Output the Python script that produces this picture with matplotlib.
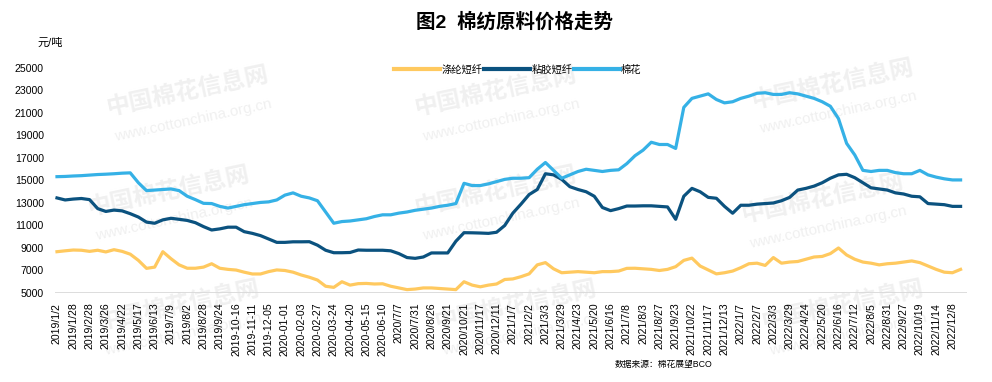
import matplotlib.pyplot as plt
import numpy as np

plt.rcParams["font.family"] = ["Liberation Sans", "Noto Sans CJK SC", "DejaVu Sans"]

# tick labels (one every two data points)
tick_labels = [
    "2019/1/2", "2019/1/28", "2019/2/28", "2019/3/26", "2019/4/22", "2019/5/17",
    "2019/6/13", "2019/7/9", "2019/8/2", "2019/8/28", "2019/9/24", "2019-10-16",
    "2019-11-11", "2019-12-05", "2020-01-01", "2020-02-03", "2020-02-27",
    "2020-03-24", "2020-04-20", "2020-05-15", "2020-06-10", "2020/7/7",
    "2020/7/31", "2020/8/26", "2020/9/21", "2020/10/21", "2020/11/17",
    "2020/12/11", "2021/1/7", "2021/2/2", "2021/3/3", "2021/3/29", "2021/4/23",
    "2021/5/20", "2021/6/16", "2021/7/8", "2021/8/3", "2021/8/27", "2021/9/23",
    "2021/10/22", "2021/11/17", "2021/12/13", "2022/1/7", "2022/2/7", "2022/3/3",
    "2022/3/29", "2022/4/24", "2022/5/20", "2022/6/16", "2022/7/12", "2022/8/5",
    "2022/8/31", "2022/9/27", "2022/10/19", "2022/11/14", "2022/12/8",
]

# 元/吨
polyester = [
    8670, 8750, 8820, 8800, 8700, 8800, 8650, 8850, 8700, 8450,
    7900, 7190, 7300, 8670, 8050, 7500, 7200, 7200, 7300, 7600,
    7200, 7100, 7040, 6850, 6690, 6690, 6900, 7050, 7000, 6850,
    6600, 6400, 6150, 5600, 5500, 6000, 5700, 5830, 5850, 5800,
    5820, 5600, 5450, 5300, 5350, 5450, 5450, 5400, 5350, 5300,
    6000, 5700, 5550, 5700, 5800, 6200, 6250, 6450, 6700, 7500,
    7700, 7150, 6800, 6850, 6900, 6850, 6800, 6900, 6900, 6950,
    7190, 7200, 7150, 7100, 7000, 7100, 7340, 7900, 8100, 7400,
    7050, 6700, 6800, 6950, 7250, 7600, 7650, 7450, 8150, 7650,
    7750, 7800, 8000, 8200, 8250, 8500, 9000, 8380, 8000, 7750,
    7650, 7500, 7600, 7650, 7750, 7850, 7700, 7400, 7100, 6850,
    6800, 7100,
]
viscose = [
    13450, 13270, 13350, 13400, 13300, 12500, 12250, 12370, 12300, 12050,
    11750, 11300, 11200, 11500, 11640, 11550, 11450, 11250, 10900, 10600,
    10700, 10850, 10850, 10450, 10300, 10100, 9800, 9500, 9500, 9550,
    9550, 9560, 9250, 8800, 8580, 8580, 8600, 8820, 8800, 8800,
    8800, 8750, 8500, 8150, 8080, 8200, 8560, 8560, 8560, 9600,
    10360, 10350, 10330, 10300, 10400, 11000, 12100, 12900, 13750, 14200,
    15600, 15500, 15100, 14450, 14200, 14000, 13600, 12600, 12320, 12500,
    12730, 12730, 12750, 12750, 12700, 12650, 11550, 13600, 14300, 14000,
    13500, 13420, 12700, 12090, 12800, 12800, 12900, 12950, 13000, 13200,
    13500, 14150, 14300, 14500, 14800, 15200, 15500, 15550, 15250, 14800,
    14350, 14250, 14150, 13900, 13800, 13600, 13550, 12950, 12900, 12850,
    12700, 12700,
]
cotton = [
    15340, 15360, 15400, 15430, 15480, 15530, 15560, 15600, 15650, 15680,
    14800, 14100, 14150, 14200, 14250, 14100, 13600, 13300, 12970, 12950,
    12700, 12550, 12700, 12850, 12950, 13050, 13100, 13270, 13700, 13900,
    13600, 13450, 13200, 12200, 11200, 11350, 11400, 11500, 11600, 11800,
    11950, 11950, 12100, 12200, 12350, 12450, 12550, 12700, 12800, 12950,
    14750, 14550, 14550, 14700, 14900, 15100, 15200, 15200, 15250, 16000,
    16600, 15900, 15200, 15500, 15800, 16000, 15900, 15800, 15900, 15950,
    16500, 17200, 17700, 18400, 18200, 18200, 17850, 21500, 22300, 22500,
    22700, 22200, 21900, 22000, 22300, 22500, 22750, 22800, 22650, 22650,
    22800, 22700, 22500, 22300, 22000, 21600, 20500, 18300, 17270, 15900,
    15800, 15900, 15900, 15700, 15600, 15600, 15900, 15500, 15300, 15150,
    15050, 15050,
]

x = np.arange(len(cotton))

fig = plt.figure(figsize=(9.92, 3.82), dpi=100)
ax = fig.add_axes([0.0554, 0.233, 0.919, 0.589])

# faint site watermark behind the lines
for wx, wy in [(0.19, 0.76), (0.50, 0.76), (0.84, 0.78), (0.17, 0.50), (0.50, 0.50),
               (0.83, 0.48), (0.18, 0.20), (0.52, 0.20), (0.85, 0.20)]:
    fig.text(wx, wy, "中国棉花信息网", fontsize=17, fontweight="bold", color="#f0f0f0",
             rotation=12, ha="center", va="center", zorder=-1)
    fig.text(wx + 0.005, wy - 0.075, "www.cottonchina.org.cn", fontsize=11, color="#f0f0f0",
             rotation=12, ha="center", va="center", zorder=-1)

ax.patch.set_alpha(0)
ax.plot(x, polyester, color="#FFC95F", lw=2.3, label="涤纶短纤", zorder=3)
ax.plot(x, viscose, color="#0B527F", lw=2.3, label="粘胶短纤", zorder=3)
ax.plot(x, cotton, color="#35B1E6", lw=2.3, label="棉花", zorder=3)

ax.set_ylim(5000, 25000)
ax.set_xlim(-0.25, len(x) - 0.26)
ax.set_yticks(np.arange(5000, 25001, 2000))
ax.set_xticks(x[::2][: len(tick_labels)])
ax.set_xticklabels(tick_labels, rotation=90, fontsize=7.6)
ax.tick_params(axis="y", labelsize=7.6, length=0, pad=8)
ax.tick_params(axis="x", length=0, pad=7)
for s in ax.spines.values():
    s.set_visible(False)
ax.axhline(5000, color="#d9d9d9", lw=2, zorder=2)

fig.text(0.519, 0.943, "图2  棉纺原料价格走势", fontsize=14, fontweight="bold",
         ha="center", va="center")
fig.text(0.038, 0.887, "元/吨", fontsize=8, ha="left", va="center")
fig.text(0.62, 0.045, "数据来源：棉花展望BCO", fontsize=6.3, ha="left", va="center")

fig.legend(loc="center", bbox_to_anchor=(0.522, 0.817), ncol=3, frameon=False,
           fontsize=7.4, handlelength=4.5, handletextpad=0.1, columnspacing=0.15)
for line in fig.legends[0].get_lines():
    line.set_linewidth(3)

fig.savefig("out.png", dpi=100)
